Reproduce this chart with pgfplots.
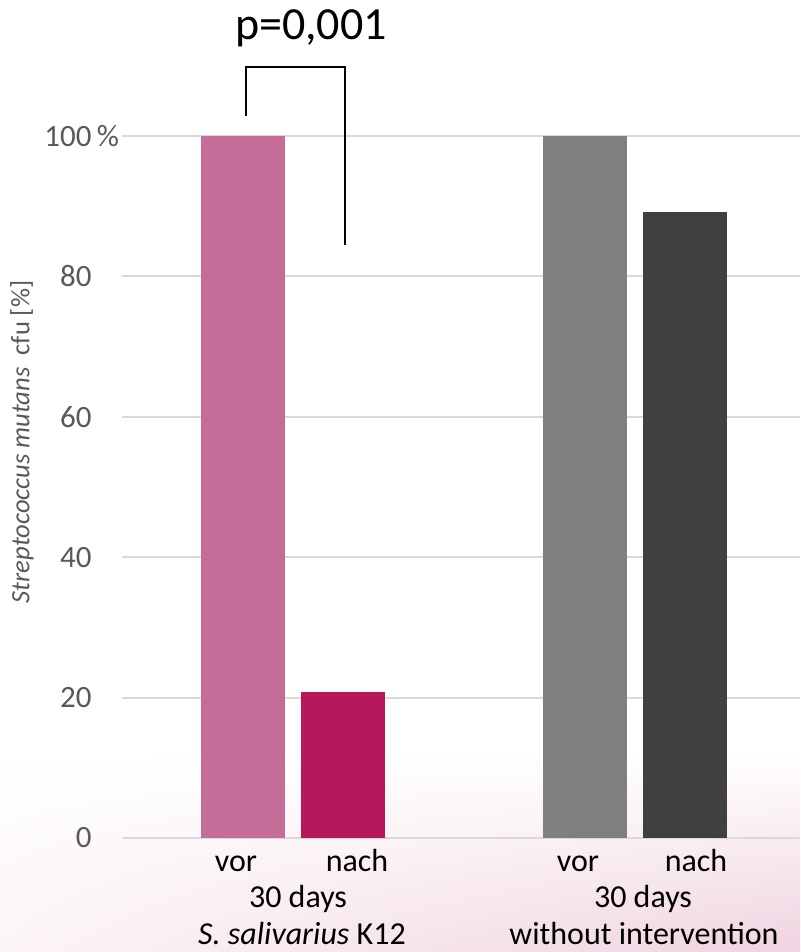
\documentclass[border=0pt]{standalone}
\usepackage{pgfplots}
\pgfplotsset{compat=1.18}
\usetikzlibrary{shadings}
\usepackage{fontspec}
\setmainfont{Carlito}
\definecolor{cvorA}{HTML}{C56C98}
\definecolor{cnachA}{HTML}{B5195B}
\definecolor{cvorB}{HTML}{7F7F7F}
\definecolor{cnachB}{HTML}{404040}
\definecolor{gridc}{HTML}{D9D9D9}
\definecolor{tickc}{HTML}{595959}
\definecolor{bgl}{HTML}{FCF5F8}
\definecolor{bgr}{HTML}{EFD3E0}
\begin{document}
\begin{tikzpicture}
\useasboundingbox (0,0) rectangle (400pt,476pt);
\fill[white] (0,0) rectangle (400pt,476pt);
\shade[upper left=white, upper right=white, lower left=bgl, lower right=bgr] (0,0) rectangle (400pt,100pt);
\begin{axis}[
  at={(61pt,57pt)}, anchor=south west,
  scale only axis, width=339pt, height=351pt,
  xmin=122, xmax=800, ymin=0, ymax=100,
  ybar, bar width=84, bar shift=0pt,
  axis line style={draw=none},
  major tick length=0pt,
  ymajorgrids, grid style={gridc, line width=1pt},
  ytick={0,20,40,60,80,100},
  yticklabels={0,20,40,60,80,100\rlap{\,\%}},
  yticklabel style={anchor=east, inner sep=0pt, xshift=-15pt, font=\fontsize{15.5}{18}\selectfont, text=tickc},
  xtick={236,357,578,696},
  xticklabels={vor,nach,vor,nach},
  xticklabel style={anchor=base, inner sep=0pt, yshift=-17pt, font=\fontsize{16}{19}\selectfont, text=black},
  clip=false,
]
\addplot[fill=cvorA, draw=none] coordinates {(243,100)};
\addplot[fill=cnachA, draw=none] coordinates {(343,20.8)};
\addplot[fill=cvorB, draw=none] coordinates {(585,100)};
\addplot[fill=cnachB, draw=none] coordinates {(685,89.2)};
\draw[black, line width=1pt] (axis cs:246,102.85) -- (axis cs:246,109.8) -- (axis cs:345,109.8) -- (axis cs:345,84.47);
\node[anchor=base, inner sep=0pt, font=\fontsize{23}{27}\selectfont] at (axis cs:311,113.7) {p=0,001};
\node[anchor=base, inner sep=0pt, font=\fontsize{16}{19}\selectfont, yshift=-35pt] at (axis cs:298,0) {30 days};
\node[anchor=base, inner sep=0pt, font=\fontsize{16}{19}\selectfont, yshift=-53pt] at (axis cs:302,0) {\itshape S. salivarius\upshape\ K12};
\node[anchor=base, inner sep=0pt, font=\fontsize{16}{19}\selectfont, yshift=-35pt] at (axis cs:643,0) {30 days};
\node[anchor=base, inner sep=0pt, font=\fontsize{16}{19}\selectfont, yshift=-53pt] at (axis cs:644,0) {without intervention};
\end{axis}
\node[rotate=90, inner sep=0pt, text=tickc, font=\fontsize{13.3}{15}\selectfont] at (11pt,255pt) {\itshape Streptococcus mutans\upshape\ \ cfu [\%]};
\end{tikzpicture}
\end{document}
